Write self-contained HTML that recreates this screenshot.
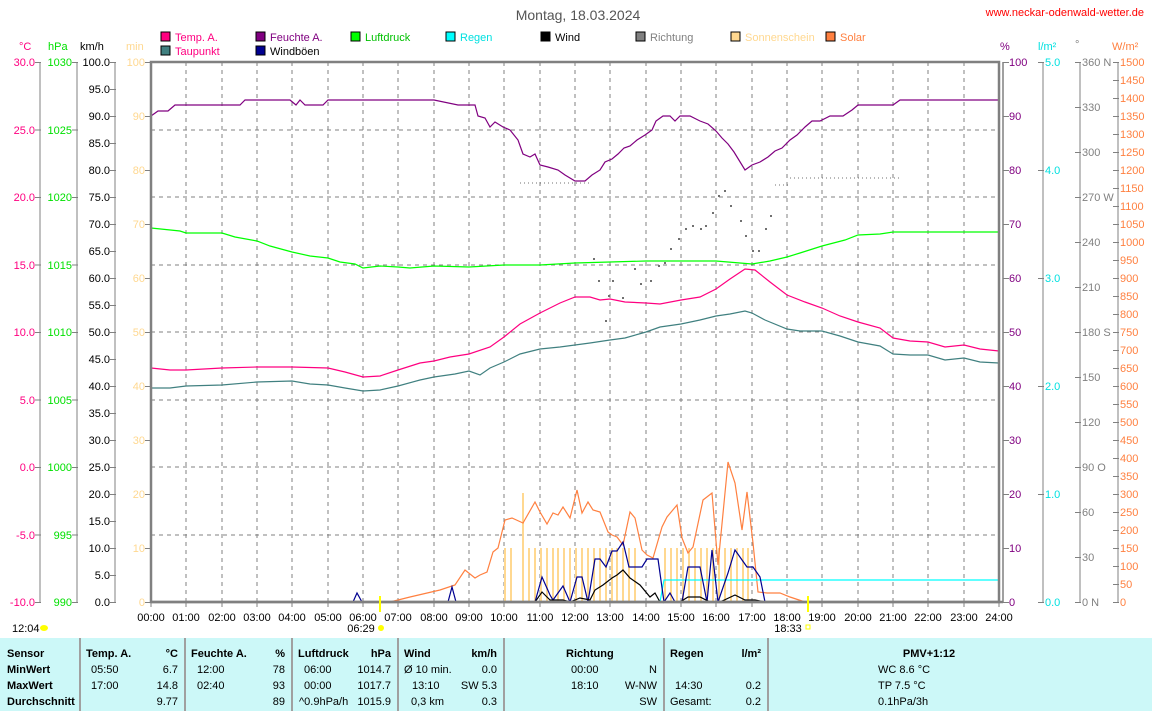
<!DOCTYPE html>
<html><head><meta charset="utf-8"><style>
html,body{margin:0;padding:0;background:#fff;}
svg{display:block;font-family:"Liberation Sans",sans-serif;}
</style></head><body>
<svg width="1152" height="711" viewBox="0 0 1152 711" xmlns="http://www.w3.org/2000/svg" font-size="12">
<defs>
<pattern id="t27" x="0" y="62" width="6" height="27" patternUnits="userSpaceOnUse"><line x1="0" y1="0.5" x2="6" y2="0.5" stroke="#808080"/></pattern>
<pattern id="t67" x="0" y="62" width="6" height="67.5" patternUnits="userSpaceOnUse"><line x1="0" y1="0.5" x2="6" y2="0.5" stroke="#808080"/></pattern>
<pattern id="t54" x="0" y="62" width="6" height="54" patternUnits="userSpaceOnUse"><line x1="0" y1="0.5" x2="6" y2="0.5" stroke="#808080"/></pattern>
<pattern id="t108" x="0" y="62" width="6" height="108" patternUnits="userSpaceOnUse"><line x1="0" y1="0.5" x2="6" y2="0.5" stroke="#808080"/></pattern>
<pattern id="t45" x="0" y="62" width="6" height="45" patternUnits="userSpaceOnUse"><line x1="0" y1="0.5" x2="6" y2="0.5" stroke="#808080"/></pattern>
<pattern id="t18" x="0" y="62" width="6" height="18" patternUnits="userSpaceOnUse"><line x1="0" y1="0.5" x2="6" y2="0.5" stroke="#808080"/></pattern>
</defs>
<text x="578" y="20" text-anchor="middle" font-size="14" fill="#555">Montag, 18.03.2024</text>
<text x="1144" y="16" text-anchor="end" font-size="11" fill="#f00">www.neckar-odenwald-wetter.de</text>

<g font-size="11">
<rect x="161" y="32" width="9" height="9" fill="#ff0080" stroke="#000"/><text x="175" y="41" fill="#ff0080">Temp. A.</text>
<rect x="161" y="46" width="9" height="9" fill="#408080" stroke="#000"/><text x="175" y="55" fill="#ff0080">Taupunkt</text>
<rect x="256" y="32" width="9" height="9" fill="#800080" stroke="#000"/><text x="270" y="41" fill="#800080">Feuchte A.</text>
<rect x="256" y="46" width="9" height="9" fill="#000090" stroke="#000"/><text x="270" y="55" fill="#000">Windböen</text>
<rect x="351" y="32" width="9" height="9" fill="#00ff00" stroke="#000"/><text x="365" y="41" fill="#00c000">Luftdruck</text>
<rect x="446" y="32" width="9" height="9" fill="#00ffff" stroke="#000"/><text x="460" y="41" fill="#00e0e0">Regen</text>
<rect x="541" y="32" width="9" height="9" fill="#000" stroke="#000"/><text x="555" y="41" fill="#000">Wind</text>
<rect x="636" y="32" width="9" height="9" fill="#808080" stroke="#000"/><text x="650" y="41" fill="#808080">Richtung</text>
<rect x="731" y="32" width="9" height="9" fill="#ffd890" stroke="#000"/><text x="745" y="41" fill="#ffd890">Sonnenschein</text>
<rect x="826" y="32" width="9" height="9" fill="#ff8040" stroke="#000"/><text x="840" y="41" fill="#ff8040">Solar</text>
</g>

<g font-size="11">
<text x="19" y="50" fill="#ff0080">°C</text>
<text x="48" y="50" fill="#00e000">hPa</text>
<text x="80" y="50" fill="#000">km/h</text>
<text x="126" y="50" fill="#ffd890">min</text>
<text x="1000" y="50" fill="#800080">%</text>
<text x="1038" y="50" fill="#00e0e0">l/m²</text>
<text x="1075" y="48" fill="#808080">°</text>
<text x="1112" y="50" fill="#ff8040">W/m²</text>
</g>

<g stroke="#808080" stroke-dasharray="4,4" stroke-width="1">
<line x1="151" y1="130" x2="999" y2="130"/><line x1="151" y1="197" x2="999" y2="197"/><line x1="151" y1="265" x2="999" y2="265"/><line x1="151" y1="332" x2="999" y2="332"/><line x1="151" y1="400" x2="999" y2="400"/><line x1="151" y1="467" x2="999" y2="467"/><line x1="151" y1="535" x2="999" y2="535"/>
<line x1="186" y1="62" x2="186" y2="602"/><line x1="222" y1="62" x2="222" y2="602"/><line x1="257" y1="62" x2="257" y2="602"/><line x1="292" y1="62" x2="292" y2="602"/><line x1="328" y1="62" x2="328" y2="602"/><line x1="363" y1="62" x2="363" y2="602"/><line x1="398" y1="62" x2="398" y2="602"/><line x1="434" y1="62" x2="434" y2="602"/><line x1="469" y1="62" x2="469" y2="602"/><line x1="504" y1="62" x2="504" y2="602"/><line x1="540" y1="62" x2="540" y2="602"/><line x1="575" y1="62" x2="575" y2="602"/><line x1="610" y1="62" x2="610" y2="602"/><line x1="646" y1="62" x2="646" y2="602"/><line x1="681" y1="62" x2="681" y2="602"/><line x1="716" y1="62" x2="716" y2="602"/><line x1="752" y1="62" x2="752" y2="602"/><line x1="787" y1="62" x2="787" y2="602"/><line x1="822" y1="62" x2="822" y2="602"/><line x1="858" y1="62" x2="858" y2="602"/><line x1="893" y1="62" x2="893" y2="602"/><line x1="928" y1="62" x2="928" y2="602"/><line x1="964" y1="62" x2="964" y2="602"/>
</g>

<g stroke="#ffd890" stroke-width="2">
<line x1="505" y1="548" x2="505" y2="602"/><line x1="511" y1="548" x2="511" y2="602"/><line x1="523" y1="493" x2="523" y2="602"/><line x1="529" y1="548" x2="529" y2="602"/><line x1="535" y1="548" x2="535" y2="602"/><line x1="541" y1="548" x2="541" y2="602"/><line x1="547" y1="548" x2="547" y2="602"/><line x1="553" y1="548" x2="553" y2="602"/><line x1="558" y1="548" x2="558" y2="602"/><line x1="564" y1="548" x2="564" y2="602"/><line x1="570" y1="548" x2="570" y2="602"/><line x1="576" y1="548" x2="576" y2="602"/><line x1="582" y1="548" x2="582" y2="602"/><line x1="588" y1="548" x2="588" y2="602"/><line x1="594" y1="548" x2="594" y2="602"/><line x1="600" y1="548" x2="600" y2="602"/><line x1="606" y1="548" x2="606" y2="602"/><line x1="612" y1="548" x2="612" y2="602"/><line x1="617" y1="548" x2="617" y2="602"/><line x1="623" y1="548" x2="623" y2="602"/><line x1="629" y1="548" x2="629" y2="602"/><line x1="635" y1="548" x2="635" y2="602"/>
<line x1="665" y1="548" x2="665" y2="602"/><line x1="671" y1="548" x2="671" y2="602"/><line x1="677" y1="548" x2="677" y2="602"/><line x1="683" y1="548" x2="683" y2="602"/><line x1="689" y1="548" x2="689" y2="602"/><line x1="695" y1="548" x2="695" y2="602"/><line x1="701" y1="548" x2="701" y2="602"/><line x1="707" y1="548" x2="707" y2="602"/><line x1="713" y1="548" x2="713" y2="602"/><line x1="719" y1="548" x2="719" y2="602"/><line x1="725" y1="548" x2="725" y2="602"/><line x1="731" y1="548" x2="731" y2="602"/><line x1="737" y1="548" x2="737" y2="602"/><line x1="743" y1="548" x2="743" y2="602"/><line x1="748" y1="548" x2="748" y2="602"/>
</g>

<g fill="#707070">
<line x1="520" y1="183" x2="590" y2="183" stroke="#707070" stroke-dasharray="1,3"/>
<line x1="775" y1="185" x2="790" y2="185" stroke="#707070" stroke-dasharray="1,3"/>
<line x1="790" y1="178" x2="902" y2="178" stroke="#707070" stroke-dasharray="1,3"/>
<rect x="593" y="258" width="2" height="2"/><rect x="598" y="280" width="2" height="2"/><rect x="605" y="320" width="2" height="2"/><rect x="608" y="295" width="2" height="2"/><rect x="612" y="280" width="2" height="2"/><rect x="622" y="297" width="2" height="2"/><rect x="634" y="268" width="2" height="2"/><rect x="640" y="283" width="2" height="2"/><rect x="650" y="280" width="2" height="2"/><rect x="658" y="265" width="2" height="2"/><rect x="664" y="262" width="2" height="2"/><rect x="670" y="248" width="2" height="2"/><rect x="678" y="238" width="2" height="2"/><rect x="685" y="228" width="2" height="2"/><rect x="692" y="225" width="2" height="2"/><rect x="700" y="228" width="2" height="2"/><rect x="705" y="225" width="2" height="2"/><rect x="712" y="212" width="2" height="2"/><rect x="718" y="195" width="2" height="2"/><rect x="724" y="190" width="2" height="2"/><rect x="730" y="205" width="2" height="2"/><rect x="740" y="220" width="2" height="2"/><rect x="745" y="235" width="2" height="2"/><rect x="752" y="250" width="2" height="2"/><rect x="758" y="250" width="2" height="2"/><rect x="765" y="228" width="2" height="2"/><rect x="770" y="215" width="2" height="2"/>
</g>

<g fill="none" stroke-width="1.2">
<polyline stroke="#800080" points="151,116 158,111 168,111 175,105 200,105 240,105 245,100 290,100 296,105 300,100 305,105 323,105 328,100 380,100 434,100 458,105 475,105 478,116 485,118 490,127 495,122 503,127 510,130 518,140 523,154 530,157 535,154 540,165 548,167 558,170 565,175 575,181 585,181 592,175 600,170 605,162 612,159 618,154 624,148 630,146 637,140 645,135 652,130 656,121 663,116 670,116 675,121 680,116 690,116 700,121 708,124 716,131 722,138 728,144 734,152 745,170 752,165 760,162 768,157 775,151 782,148 790,140 797,135 805,127 812,121 820,121 830,116 843,116 852,110 858,105 893,105 900,100 999,100"/>
<polyline stroke="#00ff00" points="151,228 180,231 186,233 222,233 235,237 257,241 270,246 292,252 310,256 328,258 340,262 355,264 363,268 380,266 398,267 410,268 434,266 469,267 504,265 540,265 575,263 610,262 646,261 681,261 716,261 740,263 752,264 770,261 787,257 800,253 822,246 845,240 858,235 880,234 893,232 928,232 964,232 999,232"/>
<polyline stroke="#ff0080" points="151,368 170,370 186,370 222,368 257,367 292,367 328,368 345,372 363,377 380,376 398,370 420,363 434,361 450,357 469,354 490,347 504,337 520,324 540,313 560,303 575,297 590,297 600,300 610,299 625,302 646,303 660,304 681,300 700,297 716,289 730,279 745,269 755,270 770,282 787,295 805,302 822,308 840,316 858,322 880,328 893,338 910,341 928,342 945,347 964,345 980,349 999,351"/>
<polyline stroke="#408080" points="151,388 170,388 186,386 222,385 257,382 292,381 310,384 328,385 345,388 363,391 380,390 398,386 420,380 434,377 455,374 469,371 480,375 490,368 504,362 520,354 540,349 560,347 575,345 590,343 610,340 625,338 646,332 660,327 681,324 700,320 716,316 730,314 745,311 752,313 765,320 787,329 800,331 822,331 840,336 858,342 880,346 893,354 910,355 928,355 945,360 964,358 980,362 999,363"/>
<polyline stroke="#ff8040" points="390,602 410,597 440,590 455,585 465,570 475,578 480,575 487,572 493,552 498,548 505,520 512,518 523,523 535,502 540,512 547,524 553,513 558,515 563,507 570,518 577,490 582,513 588,502 593,510 600,512 608,532 612,535 617,537 623,545 630,512 635,518 642,550 647,555 653,558 662,527 667,517 677,505 682,538 688,553 693,547 703,500 712,493 718,565 728,462 735,483 742,530 747,492 753,543 758,592 767,593 780,593 790,597 805,602"/>
<polyline stroke="#00ffff" points="660,602 664,580 999,580"/>
<polyline stroke="#000090" points="353,602 357,593 362,602 448,602 452,587 456,602 535,602 542,577 550,595 553,600 563,586 570,602 577,577 582,577 588,602 595,559 600,559 606,567 612,551 617,551 623,542 629,567 642,567 647,559 658,559 664,602 670,593 675,602 682,602 688,567 700,567 707,602 712,550 718,602 728,573 735,550 747,567 753,567 760,577 765,602"/>
<polyline stroke="#000" points="535,602 542,592 550,600 563,600 570,602 580,598 590,600 595,590 603,585 612,578 617,575 623,570 630,578 640,585 650,597 655,593 660,602 680,602 688,597 700,597 710,602 720,602 735,595 745,600 755,600 765,602"/>
</g>

<rect x="151" y="62" width="848" height="540" fill="none" stroke="#808080" stroke-width="2.5"/>
<line x1="1003" y1="62" x2="1003" y2="602" stroke="#808080" stroke-width="1.5"/>
<line x1="151" y1="602" x2="1003" y2="602" stroke="#808080" stroke-width="2.5"/>
<g stroke="#808080"><line x1="151" y1="602" x2="151" y2="607"/><line x1="186" y1="602" x2="186" y2="607"/><line x1="222" y1="602" x2="222" y2="607"/><line x1="257" y1="602" x2="257" y2="607"/><line x1="292" y1="602" x2="292" y2="607"/><line x1="328" y1="602" x2="328" y2="607"/><line x1="363" y1="602" x2="363" y2="607"/><line x1="398" y1="602" x2="398" y2="607"/><line x1="434" y1="602" x2="434" y2="607"/><line x1="469" y1="602" x2="469" y2="607"/><line x1="504" y1="602" x2="504" y2="607"/><line x1="540" y1="602" x2="540" y2="607"/><line x1="575" y1="602" x2="575" y2="607"/><line x1="610" y1="602" x2="610" y2="607"/><line x1="646" y1="602" x2="646" y2="607"/><line x1="681" y1="602" x2="681" y2="607"/><line x1="716" y1="602" x2="716" y2="607"/><line x1="752" y1="602" x2="752" y2="607"/><line x1="787" y1="602" x2="787" y2="607"/><line x1="822" y1="602" x2="822" y2="607"/><line x1="858" y1="602" x2="858" y2="607"/><line x1="893" y1="602" x2="893" y2="607"/><line x1="928" y1="602" x2="928" y2="607"/><line x1="964" y1="602" x2="964" y2="607"/><line x1="999" y1="602" x2="999" y2="607"/></g>
<line x1="380" y1="596" x2="380" y2="612" stroke="#ffff00" stroke-width="2"/>
<line x1="808" y1="596" x2="808" y2="612" stroke="#ffff00" stroke-width="2"/>

<g font-size="11" text-anchor="middle" fill="#000">
<text x="151" y="621">00:00</text><text x="186" y="621">01:00</text><text x="222" y="621">02:00</text><text x="257" y="621">03:00</text><text x="292" y="621">04:00</text><text x="328" y="621">05:00</text><text x="363" y="621">06:00</text><text x="398" y="621">07:00</text><text x="434" y="621">08:00</text><text x="469" y="621">09:00</text><text x="504" y="621">10:00</text><text x="540" y="621">11:00</text><text x="575" y="621">12:00</text><text x="610" y="621">13:00</text><text x="646" y="621">14:00</text><text x="681" y="621">15:00</text><text x="716" y="621">16:00</text><text x="752" y="621">17:00</text><text x="787" y="621">18:00</text><text x="822" y="621">19:00</text><text x="858" y="621">20:00</text><text x="893" y="621">21:00</text><text x="928" y="621">22:00</text><text x="964" y="621">23:00</text><text x="999" y="621">24:00</text>
<text x="361" y="632">06:29</text><text x="788" y="632">18:33</text>
</g>
<text x="12" y="632" font-size="11">12:04</text>
<ellipse cx="44" cy="628" rx="4" ry="3" fill="#ffff00"/>
<circle cx="381" cy="628" r="3" fill="#ffff00"/>
<rect x="806" y="625" width="4" height="4" fill="none" stroke="#ffff00"/>

<!-- axes with ticks -->
<g stroke="#808080">
<line x1="40" y1="62" x2="40" y2="602"/><line x1="77" y1="62" x2="77" y2="602"/><line x1="115" y1="62" x2="115" y2="602"/>
<line x1="1043" y1="62" x2="1043" y2="602"/><line x1="1080" y1="62" x2="1080" y2="602"/><line x1="1118" y1="62" x2="1118" y2="602"/>
</g>
<rect x="35" y="61.5" width="6" height="542" fill="url(#t67)"/>
<rect x="72" y="61.5" width="6" height="542" fill="url(#t67)"/>
<rect x="110" y="61.5" width="6" height="542" fill="url(#t27)"/>
<rect x="145" y="61.5" width="6" height="542" fill="url(#t54)"/>
<rect x="1003" y="61.5" width="6" height="542" fill="url(#t54)"/>
<rect x="1038" y="61.5" width="6" height="542" fill="url(#t108)"/>
<rect x="1075" y="61.5" width="6" height="542" fill="url(#t45)"/>
<rect x="1113" y="61.5" width="6" height="542" fill="url(#t18)"/>

<g font-size="11" text-anchor="end">
<g fill="#ff0080"><text x="35" y="66">30.0</text><text x="35" y="134">25.0</text><text x="35" y="201">20.0</text><text x="35" y="269">15.0</text><text x="35" y="336">10.0</text><text x="35" y="404">5.0</text><text x="35" y="471">0.0</text><text x="35" y="539">-5.0</text><text x="35" y="606">-10.0</text></g>
<g fill="#00e000"><text x="72" y="66">1030</text><text x="72" y="134">1025</text><text x="72" y="201">1020</text><text x="72" y="269">1015</text><text x="72" y="336">1010</text><text x="72" y="404">1005</text><text x="72" y="471">1000</text><text x="72" y="539">995</text><text x="72" y="606">990</text></g>
<g fill="#000"><text x="110" y="66">100.0</text><text x="110" y="93">95.0</text><text x="110" y="120">90.0</text><text x="110" y="147">85.0</text><text x="110" y="174">80.0</text><text x="110" y="201">75.0</text><text x="110" y="228">70.0</text><text x="110" y="255">65.0</text><text x="110" y="282">60.0</text><text x="110" y="309">55.0</text><text x="110" y="336">50.0</text><text x="110" y="363">45.0</text><text x="110" y="390">40.0</text><text x="110" y="417">35.0</text><text x="110" y="444">30.0</text><text x="110" y="471">25.0</text><text x="110" y="498">20.0</text><text x="110" y="525">15.0</text><text x="110" y="552">10.0</text><text x="110" y="579">5.0</text><text x="110" y="606">0.0</text></g>
<g fill="#ffd890"><text x="145" y="66">100</text><text x="145" y="120">90</text><text x="145" y="174">80</text><text x="145" y="228">70</text><text x="145" y="282">60</text><text x="145" y="336">50</text><text x="145" y="390">40</text><text x="145" y="444">30</text><text x="145" y="498">20</text><text x="145" y="552">10</text><text x="145" y="606">0</text></g>
</g>
<g font-size="11">
<g fill="#800080"><text x="1009" y="66">100</text><text x="1009" y="120">90</text><text x="1009" y="174">80</text><text x="1009" y="228">70</text><text x="1009" y="282">60</text><text x="1009" y="336">50</text><text x="1009" y="390">40</text><text x="1009" y="444">30</text><text x="1009" y="498">20</text><text x="1009" y="552">10</text><text x="1009" y="606">0</text></g>
<g fill="#00e0e0"><text x="1045" y="66">5.0</text><text x="1045" y="174">4.0</text><text x="1045" y="282">3.0</text><text x="1045" y="390">2.0</text><text x="1045" y="498">1.0</text><text x="1045" y="606">0.0</text></g>
<g fill="#808080"><text x="1082" y="66">360 N</text><text x="1082" y="111">330</text><text x="1082" y="156">300</text><text x="1082" y="201">270 W</text><text x="1082" y="246">240</text><text x="1082" y="291">210</text><text x="1082" y="336">180 S</text><text x="1082" y="381">150</text><text x="1082" y="426">120</text><text x="1082" y="471">90  O</text><text x="1082" y="516">60</text><text x="1082" y="561">30</text><text x="1082" y="606">0   N</text></g>
<g fill="#ff8040"><text x="1120" y="66">1500</text><text x="1120" y="84">1450</text><text x="1120" y="102">1400</text><text x="1120" y="120">1350</text><text x="1120" y="138">1300</text><text x="1120" y="156">1250</text><text x="1120" y="174">1200</text><text x="1120" y="192">1150</text><text x="1120" y="210">1100</text><text x="1120" y="228">1050</text><text x="1120" y="246">1000</text><text x="1120" y="264">950</text><text x="1120" y="282">900</text><text x="1120" y="300">850</text><text x="1120" y="318">800</text><text x="1120" y="336">750</text><text x="1120" y="354">700</text><text x="1120" y="372">650</text><text x="1120" y="390">600</text><text x="1120" y="408">550</text><text x="1120" y="426">500</text><text x="1120" y="444">450</text><text x="1120" y="462">400</text><text x="1120" y="480">350</text><text x="1120" y="498">300</text><text x="1120" y="516">250</text><text x="1120" y="534">200</text><text x="1120" y="552">150</text><text x="1120" y="570">100</text><text x="1120" y="588">50</text><text x="1120" y="606">0</text></g>
</g>

<rect x="0" y="638" width="1152" height="73" fill="#ccf8f8"/>
<g stroke="#a0a0a0" stroke-width="2"><line x1="80" y1="638" x2="80" y2="711"/><line x1="185" y1="638" x2="185" y2="711"/><line x1="292" y1="638" x2="292" y2="711"/><line x1="398" y1="638" x2="398" y2="711"/><line x1="504" y1="638" x2="504" y2="711"/><line x1="664" y1="638" x2="664" y2="711"/><line x1="768" y1="638" x2="768" y2="711"/></g>
<g font-size="11" fill="#000">
<g font-weight="bold"><text x="7" y="657">Sensor</text><text x="7" y="673">MinWert</text><text x="7" y="689">MaxWert</text><text x="7" y="705">Durchschnitt</text>
<text x="86" y="657">Temp. A.</text><text x="178" y="657" text-anchor="end">°C</text>
<text x="191" y="657">Feuchte A.</text><text x="285" y="657" text-anchor="end">%</text>
<text x="298" y="657">Luftdruck</text><text x="391" y="657" text-anchor="end">hPa</text>
<text x="404" y="657">Wind</text><text x="497" y="657" text-anchor="end">km/h</text>
<text x="566" y="657">Richtung</text>
<text x="670" y="657">Regen</text><text x="761" y="657" text-anchor="end">l/m²</text>
<text x="929" y="657" text-anchor="middle">PMV+1:12</text></g>
<text x="91" y="673">05:50</text><text x="178" y="673" text-anchor="end">6.7</text>
<text x="91" y="689">17:00</text><text x="178" y="689" text-anchor="end">14.8</text>
<text x="178" y="705" text-anchor="end">9.77</text>
<text x="197" y="673">12:00</text><text x="285" y="673" text-anchor="end">78</text>
<text x="197" y="689">02:40</text><text x="285" y="689" text-anchor="end">93</text>
<text x="285" y="705" text-anchor="end">89</text>
<text x="304" y="673">06:00</text><text x="391" y="673" text-anchor="end">1014.7</text>
<text x="304" y="689">00:00</text><text x="391" y="689" text-anchor="end">1017.7</text>
<text x="299" y="705">^0.9hPa/h</text><text x="391" y="705" text-anchor="end">1015.9</text>
<text x="404" y="673">Ø 10 min.</text><text x="497" y="673" text-anchor="end">0.0</text>
<text x="412" y="689">13:10</text><text x="497" y="689" text-anchor="end">SW 5.3</text>
<text x="411" y="705">0,3 km</text><text x="497" y="705" text-anchor="end">0.3</text>
<text x="571" y="673">00:00</text><text x="657" y="673" text-anchor="end">N</text>
<text x="571" y="689">18:10</text><text x="657" y="689" text-anchor="end">W-NW</text>
<text x="657" y="705" text-anchor="end">SW</text>
<text x="675" y="689">14:30</text><text x="761" y="689" text-anchor="end">0.2</text>
<text x="670" y="705">Gesamt:</text><text x="761" y="705" text-anchor="end">0.2</text>
<text x="878" y="673">WC 8.6 °C</text><text x="878" y="689">TP 7.5 °C</text><text x="878" y="705">0.1hPa/3h</text>
</g>
</svg>
</body></html>
